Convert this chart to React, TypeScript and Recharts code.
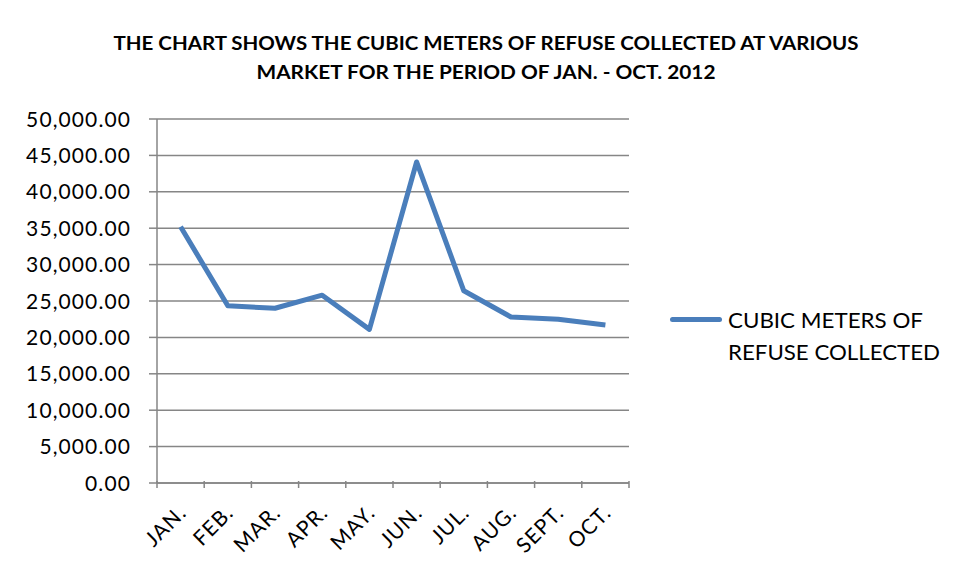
import React from "react";
import { LineChart, Line, XAxis, YAxis, CartesianGrid, Legend, Customized } from "recharts";

const months = ["JAN.", "FEB.", "MAR.", "APR.", "MAY.", "JUN.", "JUL.", "AUG.", "SEPT.", "OCT."];
const refuse = [35200, 24350, 24000, 25800, 21100, 44100, 26400, 22800, 22500, 21700];
const yTicks = [0, 5000, 10000, 15000, 20000, 25000, 30000, 35000, 40000, 45000, 50000];
const titleLines = [
  "THE CHART SHOWS THE CUBIC METERS OF REFUSE COLLECTED AT VARIOUS",
  "MARKET FOR THE PERIOD OF JAN. - OCT. 2012",
];
const seriesName = "CUBIC METERS OF REFUSE COLLECTED";
const legendLines = ["CUBIC METERS OF", "REFUSE COLLECTED"];

const data = months.map((m, i) => ({ month: m, value: refuse[i] }));

const BLUE = "#4a7ebb";
const GRAY = "#868686";
const FONT = "Lato, 'Open Sans', sans-serif";

const fmt = (v: number) =>
  v.toLocaleString("en-US", { minimumFractionDigits: 2, maximumFractionDigits: 2 });

const YTick = (props: any) => {
  const { x, y, payload } = props;
  return (
    <text
      x={x}
      y={y}
      dy="0.36em"
      textAnchor="end"
      fontFamily={FONT}
      fontSize={21}
      letterSpacing={1.1}
      fill="#000"
    >
      {fmt(payload.value)}
    </text>
  );
};

const XTick = (props: any) => {
  const { x, y, payload, index, visibleTicksCount } = props;
  const half = payload.offset || 0;
  const axisY = y;
  const tx = x + 7;
  const ty = axisY + 25;
  return (
    <g>
      <line x1={x - half} x2={x - half} y1={axisY - 8} y2={axisY - 1} stroke={GRAY} strokeWidth={1.5} />
      {index === visibleTicksCount - 1 && (
        <line x1={x + half} x2={x + half} y1={axisY - 8} y2={axisY - 1} stroke={GRAY} strokeWidth={1.5} />
      )}
      <text
        x={tx}
        y={ty}
        transform={`rotate(-45 ${tx} ${ty})`}
        textAnchor="end"
        fontFamily={FONT}
        fontSize={21}
        letterSpacing={1}
        fill="#000"
      >
        {payload.value}
      </text>
    </g>
  );
};

const LegendContent = () => (
  <div style={{ position: "relative", width: 280, height: 70, fontFamily: FONT }}>
    <div
      style={{
        position: "absolute",
        left: 0,
        top: 17,
        width: 52,
        height: 5,
        borderRadius: 3,
        background: BLUE,
      }}
    />
    <svg width={280} height={70} style={{ position: "absolute", left: 0, top: 0 }}>
      <text x={58} y={20} dy="0.36em" fontFamily={FONT} fontSize={21} textLength={195} lengthAdjust="spacingAndGlyphs">
        {legendLines[0]}
      </text>
      <text x={58} y={52} dy="0.36em" fontFamily={FONT} fontSize={21} textLength={212} lengthAdjust="spacingAndGlyphs">
        {legendLines[1]}
      </text>
    </svg>
  </div>
);

const Decor = () => (
  <g>
    <path d="M6 579 L6 7 L955 7" fill="none" stroke={GRAY} strokeWidth={2} />
    <text
      x={486}
      y={44}
      dy="0.36em"
      textAnchor="middle"
      fontFamily={FONT}
      fontWeight={700}
      fontSize={18}
      textLength={745}
      lengthAdjust="spacingAndGlyphs"
    >
      {titleLines[0]}
    </text>
    <text
      x={486}
      y={73}
      dy="0.36em"
      textAnchor="middle"
      fontFamily={FONT}
      fontWeight={700}
      fontSize={18}
      textLength={459}
      lengthAdjust="spacingAndGlyphs"
    >
      {titleLines[1]}
    </text>
  </g>
);

export default function App() {
  return (
    <div style={{ position: "relative", width: 955, height: 579, margin: "-8px 0 0 -8px", background: "#fff" }}>
      <LineChart width={955} height={579} data={data} margin={{ top: 119, right: 46, bottom: 0, left: 0 }}>
        <CartesianGrid horizontal vertical={false} stroke={GRAY} strokeWidth={1.5} />
        <XAxis
          dataKey="month"
          scale="band"
          height={96}
          axisLine={{ stroke: GRAY, strokeWidth: 1.5 }}
          tickLine={false}
          tick={<XTick />}
          interval={0}
          tickMargin={0}
        />
        <YAxis
          width={157}
          domain={[0, 50000]}
          ticks={yTicks}
          interval={0}
          axisLine={{ stroke: GRAY, strokeWidth: 1.5 }}
          tickLine={{ stroke: GRAY, strokeWidth: 1.5 }}
          tickSize={8}
          tickMargin={18}
          tick={<YTick />}
        />
        <Legend
          layout="vertical"
          align="right"
          verticalAlign="top"
          content={<LegendContent />}
          wrapperStyle={{ left: 670, top: 300, width: 280 }}
        />
        <Line
          type="linear"
          dataKey="value"
          name={seriesName}
          stroke={BLUE}
          strokeWidth={5}
          dot={false}
          activeDot={false}
          strokeLinejoin="round"
          isAnimationActive={false}
        />
        <Customized component={<Decor />} />
      </LineChart>
    </div>
  );
}
